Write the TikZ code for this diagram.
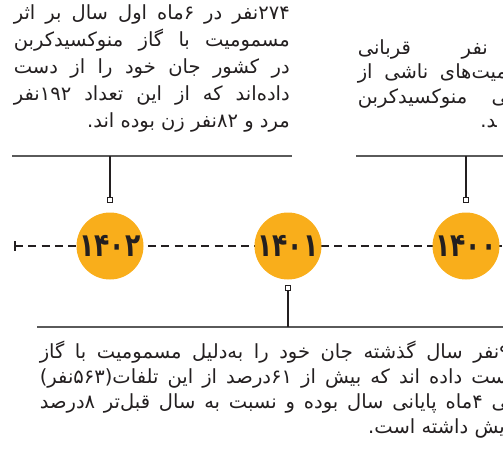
\documentclass[tikz,border=0pt]{standalone}
\usepackage{fontspec}
\TeXXeTstate=1
\newfontfamily\arabicfont[Script=Arabic]{DejaVu Sans}
\definecolor{yearorange}{HTML}{F9AE1B}
\definecolor{ink}{HTML}{231F20}
\definecolor{rulegray}{HTML}{5A5A5A}
\tikzset{
  yearc/.style={circle, fill=yearorange, minimum size=67pt, inner sep=0pt, text=ink,
    font=\arabicfont\bfseries\fontsize{25}{25}\selectfont},
  pinbox/.style={draw=ink, fill=white, line width=0.9pt, minimum size=5pt, inner sep=0pt},
  hrule/.style={draw=rulegray, line width=1.3pt},
  stem/.style={draw=ink, line width=1.1pt},
  dashline/.style={draw=ink, line width=2pt, dash pattern=on 8pt off 5.3pt},
  txt/.style={inner sep=0pt, anchor=base east, text=ink,
    font=\arabicfont\fontsize{19.5}{19.5}\selectfont},
}
\begin{document}
\begin{tikzpicture}[x=1pt, y=-1pt]
\useasboundingbox (0,0) rectangle (503,448);
\clip (0,0) rectangle (503,448);
% timeline
\coordinate (tlstart) at (15,246);
\coordinate (tlend) at (510,246);
\draw[dashline] (tlstart) -- (tlend);
\draw[ink, line width=2pt] (15,241) -- (15,251);
% year circles
\node[yearc] (y1402) at (110,246) {\scalebox{1}[1.3]{۱۴۰۲}};
\node[yearc] (y1401) at (288,246) {\scalebox{1}[1.3]{۱۴۰۱}};
\node[yearc] (y1400) at (466,246) {\scalebox{1}[1.3]{۱۴۰۰}};
% rules
\draw[hrule] (12,156) coordinate (ruleAl) -- (292,156) coordinate (ruleAr);
\draw[hrule] (356,156) coordinate (ruleBl) -- (510,156) coordinate (ruleBr);
\draw[hrule] (37,327) coordinate (ruleCl) -- (510,327) coordinate (ruleCr);
% pins and stems
\node[pinbox] (pinA) at (110,200) {};
\node[pinbox] (pinB) at (466,200) {};
\node[pinbox] (pinC) at (288,288) {};
\coordinate (topA) at (110,156);
\coordinate (topB) at (466,156);
\coordinate (botC) at (288,327);
\draw[stem] (pinA) -- (topA);
\draw[stem] (pinB) -- (topB);
\draw[stem] (pinC) -- (botC);
% column 1 text
\node[txt] (a1) at (290,19) {\makebox[276pt][s]{\beginR ۲۷۴نفر در ۶ماه اول سال بر اثر\endR}};
\node[txt] (a2) at (290,46) {\makebox[276pt][s]{\beginR مسمومیت با گاز منوکسیدکربن\endR}};
\node[txt] (a3) at (290,73) {\makebox[276pt][s]{\beginR در کشور جان خود را از دست\endR}};
\node[txt] (a4) at (290,100) {\makebox[276pt][s]{\beginR داده‌اند که از این تعداد ۱۹۲نفر\endR}};
\node[txt] (a5) at (290,127) {\beginR مرد و ۸۲نفر زن بوده اند.\endR};
% column 2 text (cut by the right edge)
\node[txt] (b1) at (488,54) {\makebox[130pt][s]{\beginR نفر قربانی\endR}};
\node[txt] (b2) at (508,78) {\makebox[150pt][s]{\beginR ‍میت‌های ناشی از\endR}};
\node[txt] (b3) at (508,103) {\makebox[150pt][s]{\beginR ‍ی منوکسیدکربن\endR}};
\node[txt] (b4) at (497,127) {\beginR ‍د.\endR};
% bottom text (cut on both sides)
\node[txt] (c1) at (510,358) {\makebox[470pt][s]{\beginR ۹نفر سال گذشته جان خود را به‌دلیل مسمومیت با گاز\endR}};
\node[txt] (c2) at (507,383) {\makebox[467pt][s]{\beginR ست داده اند که بیش از ۶۱درصد از این تلفات(۵۶۳نفر)\endR}};
\node[txt] (c3) at (508,408) {\makebox[468pt][s]{\beginR ‍ی ۴ماه پایانی سال بوده و نسبت به سال قبل‌تر ۸درصد\endR}};
\node[txt] (c4) at (505,433) {\beginR یش داشته است.\endR};
\end{tikzpicture}
\end{document}
